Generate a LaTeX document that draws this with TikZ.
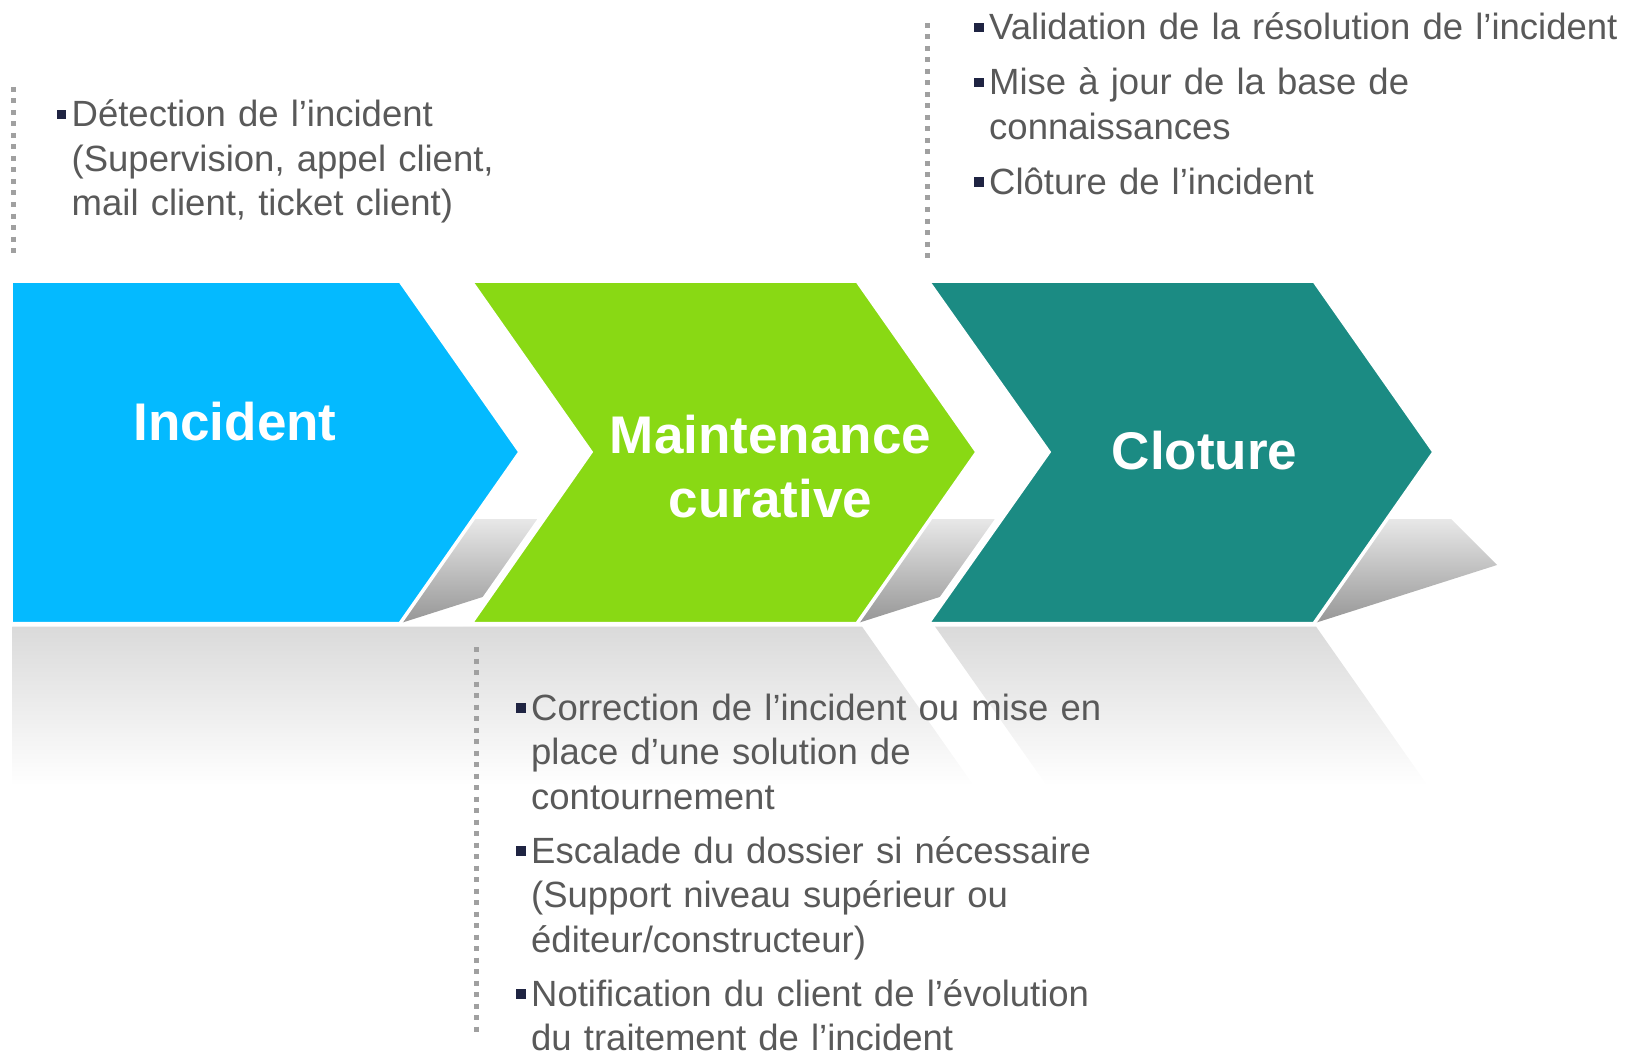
\documentclass[tikz,border=0pt]{standalone}
\usepackage{fontspec}
\setmainfont{Liberation Sans}
\definecolor{cblue}{RGB}{4,186,255}
\definecolor{cgreen}{RGB}{137,217,20}
\definecolor{cteal}{RGB}{27,139,131}
\definecolor{ctext}{RGB}{89,89,89}
\definecolor{cbul}{RGB}{31,36,66}
\definecolor{cdot}{RGB}{160,160,160}
\definecolor{crefl}{RGB}{218,218,218}
\definecolor{cshtop}{RGB}{232,232,232}
\definecolor{cshbot}{RGB}{150,150,150}
\newcommand{\bul}{\leavevmode\llap{\textcolor{cbul}{\rule[7.5pt]{9.5pt}{9.5pt}}\hspace{5.5pt}}}
\tikzset{
  title/.style={text=white, font=\fontsize{53}{60}\selectfont\bfseries, inner sep=0pt, anchor=base},
  body/.style={text=ctext, font=\fontsize{36.5}{44.5}\selectfont, inner sep=0pt, anchor=base west, align=left, text width=700pt},
  dotline/.style={cdot, line width=5pt, dash pattern=on 5pt off 6.5pt},
  chev/.style={draw=white, line width=3.5pt, line join=miter},
  halo/.style={draw=white, fill=white, line width=11pt, line join=miter},
  shadowshape/.style={top color=cshtop, bottom color=cshbot},
  refl/.style={top color=crefl, bottom color=white},
}
\begin{document}
\begin{tikzpicture}[x=1pt,y=-1pt]
\useasboundingbox (0,0) rectangle (1626,1054);
% shadows and halos
\shade[shadowshape] (471,519) -- (537,519) -- (583,565) -- (401,623) -- cycle;
\path[halo] (472,282) -- (857,282) -- (976,452) -- (857,622) -- (472,622) -- (591,452) -- cycle;
\shade[shadowshape] (928,519) -- (994,519) -- (1040,565) -- (858,623) -- cycle;
\path[halo] (929,282) -- (1314,282) -- (1433,452) -- (1314,622) -- (929,622) -- (1049,452) -- cycle;
\shade[shadowshape] (1385,519) -- (1451,519) -- (1497,565) -- (1315,623) -- cycle;
% reflections
\shade[refl] (12.4,626.5) -- (862,626.5) -- (974,786) -- (12.4,786) -- cycle;
\shade[refl] (935,626.5) -- (1316,626.5) -- (1428,786) -- (1047,786) -- cycle;
% chevrons
\path[chev, fill=cblue] (11,281) -- (400,281) -- (520,452) -- (400,623.5) -- (11,623.5) -- cycle;
\path[chev, fill=cgreen] (471,281) -- (857,281) -- (977,452) -- (857,623.5) -- (471,623.5) -- (591,452) -- cycle;
\path[chev, fill=cteal] (928,281) -- (1314,281) -- (1434,452) -- (1314,623.5) -- (928,623.5) -- (1049,452) -- cycle;
% titles
\node[title] (tInc) at (235,440) {Incident};
\node[title] (tMa) at (770.5,453.5) {Maintenance};
\node[title] (tCu) at (770.5,517) {curative};
\node[title] (tClo) at (1204.5,469.5) {Cloture};
% dotted lines
\coordinate (d1a) at (13,87);
\coordinate (d1b) at (13,257);
\coordinate (d2a) at (927,23);
\coordinate (d2b) at (927,264);
\coordinate (d3a) at (476,647);
\coordinate (d3b) at (476,1036);
\draw[dotline] (d1a) -- (d1b);
\draw[dotline] (d2a) -- (d2b);
\draw[dotline] (d3a) -- (d3b);
% texts
\node[body] (tl) at (71.5,127) {\bul Détection de l’incident\\(Supervision, appel client,\\mail client, ticket client)};
\node[body] (tr) at (989,40) {\bul Validation de la résolution de l’incident\\[10.5pt]\bul Mise à jour de la base de\\connaissances\\[10.5pt]\bul Clôture de l’incident};
\node[body] (bt) at (531,720) {\bul Correction de l’incident ou mise en\\place d’une solution de\\contournement\\[9.5pt]\bul Escalade du dossier si nécessaire\\(Support niveau supérieur ou\\éditeur/constructeur)\\[9.5pt]\bul Notification du client de l’évolution\\du traitement de l’incident};
\end{tikzpicture}
\end{document}
